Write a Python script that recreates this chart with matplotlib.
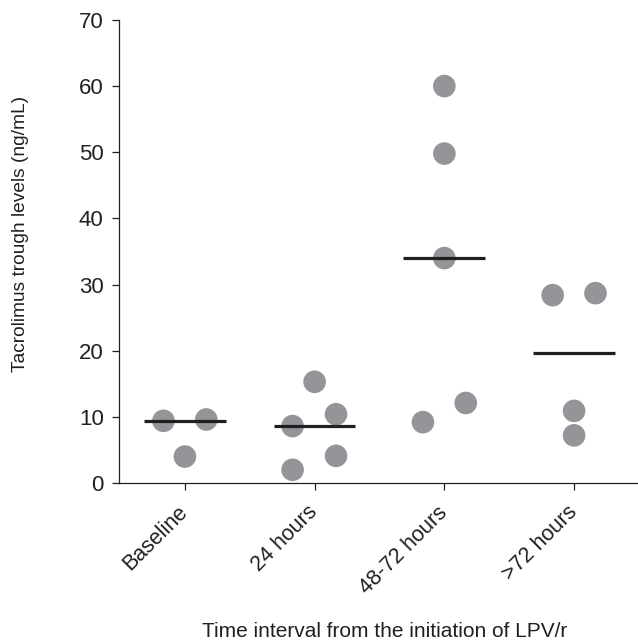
import matplotlib
matplotlib.use("Agg")
import matplotlib.pyplot as plt
import numpy as np

plt.rcParams['font.family'] = ['Liberation Sans', 'DejaVu Sans']

# categories and trough levels (ng/mL) per time interval
categories = ["Baseline", "24 hours", "48-72 hours", ">72 hours"]
baseline = [9.4, 9.6, 4.0]
hours_24 = [15.3, 8.6, 10.4, 2.0, 4.1]
hours_48_72 = [60.0, 49.8, 34.0, 9.2, 12.1]
hours_72_plus = [28.4, 28.7, 10.9, 7.2]
groups = [baseline, hours_24, hours_48_72, hours_72_plus]

# horizontal spread of the dots inside a column (category units)
offsets = [
    [-0.165, 0.165, 0.0],
    [0.0, -0.17, 0.165, -0.17, 0.165],
    [0.0, 0.0, 0.0, -0.165, 0.165],
    [-0.165, 0.165, 0.0, 0.0],
]

text_color = "#231f20"
dot_color = "#939598"

fig = plt.figure(figsize=(6.38, 6.44), dpi=100)
ax = fig.add_axes([0.1865, 0.25, 0.815, 0.719])

for i, (vals, offs) in enumerate(zip(groups, offsets)):
    x = i + np.array(offs)
    ax.scatter(x, vals, s=265, color=dot_color, edgecolors="none", zorder=2)
    med = np.median(vals)
    ax.plot([i - 0.315, i + 0.315], [med, med], color=text_color, lw=2.3, zorder=3,
            solid_capstyle="butt")

ax.set_xlim(-0.508, 3.5)
ax.set_ylim(0, 70)
ax.set_yticks(np.arange(0, 71, 10))
ax.set_xticks(range(len(categories)))
ax.set_xticklabels(categories, rotation=45, ha="right", va="center", rotation_mode="anchor")

for side in ["top", "right"]:
    ax.spines[side].set_visible(False)
for side in ["left", "bottom"]:
    ax.spines[side].set_linewidth(0.9)
    ax.spines[side].set_color(text_color)

ax.tick_params(axis="both", direction="out", length=5, width=0.9, color=text_color,
               labelcolor=text_color)
ax.tick_params(axis="y", pad=6, labelsize=16)
ax.tick_params(axis="x", pad=14, labelsize=15.5)

ax.set_ylabel("Tacrolimus trough levels (ng/mL)", fontsize=13.8, color=text_color,
              va="center")
ax.yaxis.set_label_coords(-0.19, 0.537)
ax.set_xlabel("Time interval from the initiation of LPV/r", fontsize=15, color=text_color,
              va="center")
ax.xaxis.set_label_coords(0.51, -0.32)

fig.savefig("out.png", dpi=100)
